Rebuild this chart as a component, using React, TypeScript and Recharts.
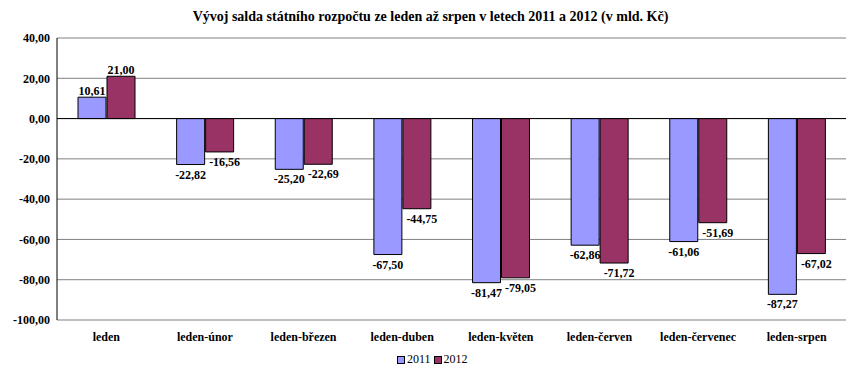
import React from 'react'
import {
  BarChart,
  Bar,
  XAxis,
  YAxis,
  CartesianGrid,
  ReferenceLine,
  LabelList,
} from 'recharts'

const categories = [
  'leden',
  'leden-únor',
  'leden-březen',
  'leden-duben',
  'leden-květen',
  'leden-červen',
  'leden-červenec',
  'leden-srpen',
]
const values2011 = [10.61, -22.82, -25.2, -67.5, -81.47, -62.86, -61.06, -87.27]
const values2012 = [21.0, -16.56, -22.69, -44.75, -79.05, -71.72, -51.69, -67.02]
const yTicks = [-100, -80, -60, -40, -20, 0, 20, 40]

const FONT = 'Liberation Serif, Tinos, Times New Roman, DejaVu Serif, serif'
const COLOR_2011 = '#9999ff'
const COLOR_2012 = '#993366'

const fmt = (v: number) => v.toFixed(2).replace('.', ',')

const chartData = categories.map((name, i) => ({
  name,
  y2011: values2011[i],
  y2012: values2012[i],
}))

// Excel-like outside-end labels; the 2012 ones below the bars sit a little to the right
const makeLabel = (shiftNeg: number) => (props: any) => {
  const { x, y, width, height, value } = props
  const top = Math.min(y, y + height)
  const bottom = Math.max(y, y + height)
  const neg = value < 0
  return (
    <text
      x={x + width / 2 + (neg ? shiftNeg : 0)}
      y={neg ? bottom + 14 : top - 2}
      textAnchor="middle"
      style={{ fontFamily: FONT, fontSize: 12, fontWeight: 'bold' }}
      fill="#000"
    >
      {fmt(value)}
    </text>
  )
}

const tickStyle = { fontFamily: FONT, fontSize: 12, fontWeight: 'bold', fill: '#000' }

export default function App() {
  return (
    <div style={{ position: 'absolute', left: 0, top: 0, width: 861, height: 372, background: '#fff', fontFamily: FONT }}>
      <div
        style={{
          position: 'absolute',
          top: 9,
          left: 0,
          width: 861,
          textAlign: 'center',
          fontFamily: FONT,
          fontWeight: 'bold',
          fontSize: 14,
          color: '#000',
        }}
      >
        Vývoj salda státního rozpočtu ze leden až srpen v letech 2011 a 2012 (v mld. Kč)
      </div>
      <BarChart
        width={861}
        height={372}
        data={chartData}
        margin={{ top: 38, right: 15, bottom: 32, left: 0 }}
        barSize={28}
        barGap={1}
        style={{ fontFamily: FONT }}
      >
        <CartesianGrid vertical={false} stroke="#808080" />
        <XAxis
          dataKey="name"
          axisLine={false}
          tickLine={false}
          tickSize={0}
          tickMargin={12}
          height={20}
          interval={0}
          tick={tickStyle}
        />
        <YAxis
          width={57}
          domain={[-100, 40]}
          ticks={yTicks}
          tickFormatter={fmt}
          axisLine={{ stroke: '#000' }}
          tickLine={false}
          tickSize={0}
          tickMargin={7}
          tick={tickStyle}
        />
        <ReferenceLine y={0} stroke="#000" />
        <Bar dataKey="y2011" fill={COLOR_2011} stroke="#000" strokeWidth={1} isAnimationActive={false}>
          <LabelList dataKey="y2011" content={makeLabel(0)} />
        </Bar>
        <Bar dataKey="y2012" fill={COLOR_2012} stroke="#000" strokeWidth={1} isAnimationActive={false}>
          <LabelList dataKey="y2012" content={makeLabel(5)} />
        </Bar>
      </BarChart>
      <div
        style={{
          position: 'absolute',
          top: 352,
          left: 397,
          display: 'flex',
          alignItems: 'center',
          fontFamily: FONT,
          fontSize: 12,
          color: '#000',
        }}
      >
        <span style={{ width: 6, height: 6, background: COLOR_2011, border: '1px solid #000', marginRight: 2 }} />
        <span style={{ marginRight: 3 }}>2011</span>
        <span style={{ width: 6, height: 6, background: COLOR_2012, border: '1px solid #000', marginRight: 2 }} />
        <span>2012</span>
      </div>
    </div>
  )
}
